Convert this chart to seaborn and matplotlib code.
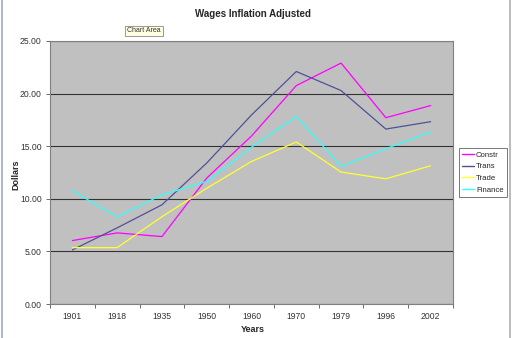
import matplotlib
matplotlib.use("Agg")
import matplotlib.pyplot as plt
import seaborn as sns
import pandas as pd
import numpy as np
from matplotlib.lines import Line2D

years = ["1901", "1918", "1935", "1950", "1960", "1970", "1979", "1996", "2002"]
constr = [6.03, 6.76, 6.41, 11.97, 15.97, 20.76, 22.9, 17.71, 18.86]
trans = [5.14, 7.24, 9.43, 13.4, 17.97, 22.1, 20.29, 16.63, 17.33]
trade = [5.36, 5.36, 8.3, 11.0, 13.55, 15.4, 12.54, 11.9, 13.14]
finance = [10.76, 8.29, 10.38, 11.65, 14.9, 17.84, 13.08, 14.76, 16.35]
series_names = ["Constr", "Trans", "Trade", "Finance"]
colors = ["#FF00FF", "#50509A", "#FFFF33", "#33FFFF"]

sns.set_theme(style="white")
plt.rcParams['font.family'] = ['Liberation Sans', 'DejaVu Sans']

rows = []
for name, vals in zip(series_names, [constr, trans, trade, finance]):
    for i, (y, v) in enumerate(zip(years, vals)):
        rows.append({"Years": i, "Dollars": v, "Series": name})
df = pd.DataFrame(rows)

fig = plt.figure(figsize=(5.12, 3.38), dpi=100)
ax = fig.add_axes([50/512, 1 - 304/338, (453 - 50)/512, (304 - 41)/338])
ax.set_facecolor("#C0C0C0")

sns.lineplot(data=df, x="Years", y="Dollars", hue="Series", hue_order=series_names,
             palette=colors, linewidth=0.9, ax=ax, legend=False)

ax.set_xlim(-0.5, len(years) - 0.5)
ax.set_ylim(0, 25)
ax.set_xticks(range(len(years)))
ax.set_xticklabels(years)
ax.set_xticks(np.arange(-0.5, len(years), 1.0), minor=True)
ax.tick_params(axis="x", which="major", length=0, pad=6, labelsize=6.2, labelcolor="#333333")
ax.tick_params(axis="x", which="minor", length=3, width=0.6, color="#555555", direction="out", bottom=True)
yt = [0, 5, 10, 15, 20, 25]
ax.set_yticks(yt)
ax.set_yticklabels([f"{v:.2f}" for v in yt])
ax.tick_params(axis="y", length=3, width=0.6, color="#555555", direction="out", left=True,
               labelsize=6.2, labelcolor="#333333", pad=3)
ax.grid(axis="y", color="#333333", linewidth=0.8)
ax.grid(axis="x", visible=False)
ax.set_axisbelow(True)
for s in ax.spines.values():
    s.set_color("#808080")
    s.set_linewidth(0.8)

ax.set_xlabel("")
ax.set_ylabel("")
fig.text(253/512, 1 - 329/338, "Years", ha="center", va="center",
         fontsize=6.5, fontweight="bold")
fig.text(16/512, 1 - 175/338, "Dollars", ha="center", va="center", rotation=90,
         fontsize=6.5, fontweight="bold")
fig.text(253/512, 1 - 14/338, "Wages Inflation Adjusted", ha="center", va="center",
         fontsize=7, fontweight="bold")

fig.text(144/512, 1 - 31/338, "Chart Area", ha="center", va="center", fontsize=5,
         color="#333333",
         bbox=dict(boxstyle="square,pad=0.25", facecolor="#FFFFE1", edgecolor="#888888", linewidth=0.6))

handles = [Line2D([0], [0], color=c, linewidth=1) for c in colors]
leg = fig.legend(handles, series_names, loc="upper left",
                 bbox_to_anchor=(459/512, 1 - 148/338), fontsize=5.6, frameon=True,
                 fancybox=False, handlelength=1.5, handletextpad=0.3, borderpad=0.4,
                 labelspacing=0.55, borderaxespad=0)
leg.get_frame().set_edgecolor("#555555")
leg.get_frame().set_linewidth(0.7)

# window borders
fig.add_artist(Line2D([2/512, 2/512], [0, 1], color="#A0A8C8", linewidth=1.2))
fig.add_artist(Line2D([510/512, 510/512], [0, 1], color="#B0B0B0", linewidth=1.2))

fig.savefig("out.png", dpi=100)
